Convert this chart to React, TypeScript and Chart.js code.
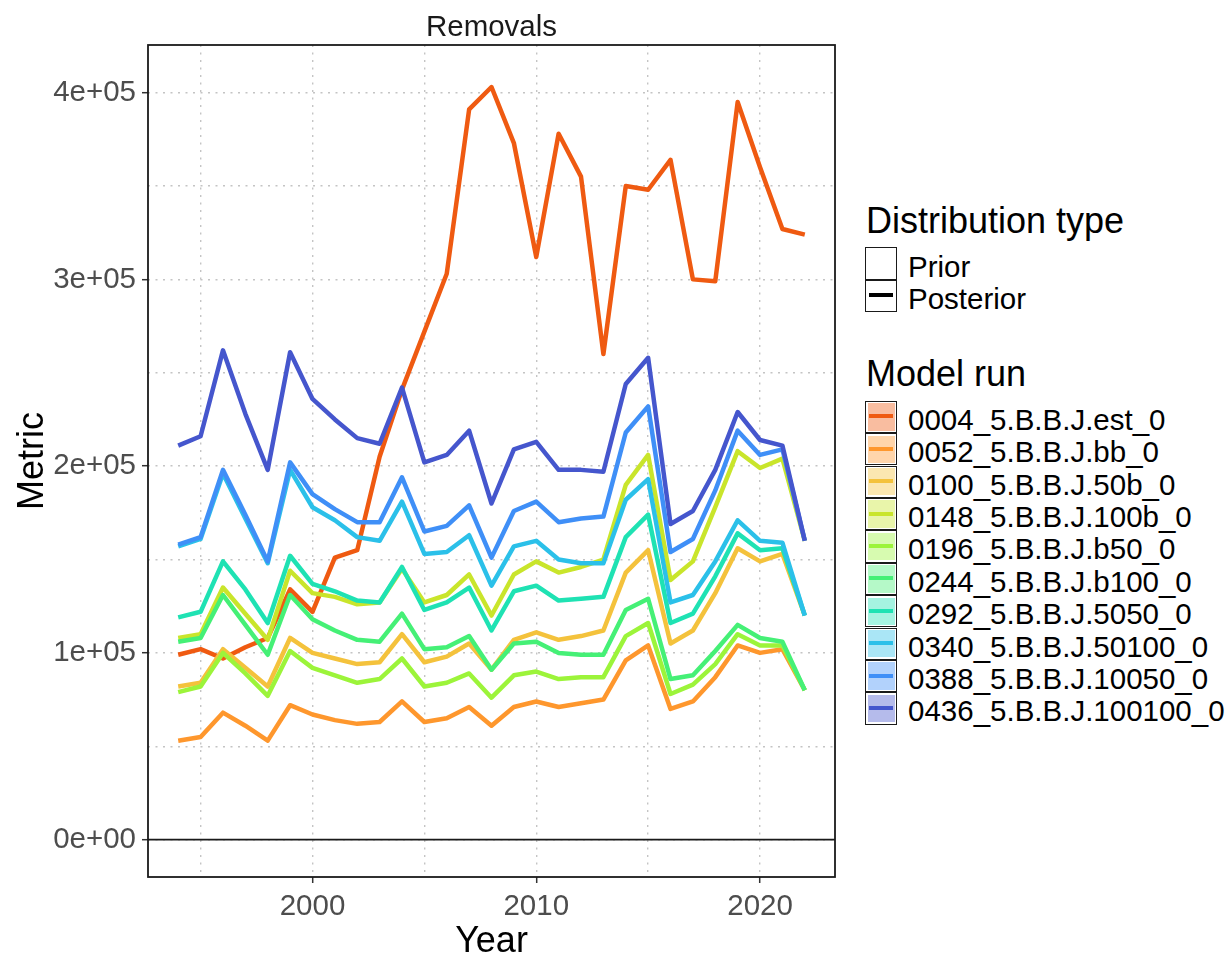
import React, { useEffect, useRef } from 'react';
import { Chart, registerables } from 'chart.js';

Chart.register(...registerables);

// ---------- data ----------
const years = [1994, 1995, 1996, 1997, 1998, 1999, 2000, 2001, 2002, 2003, 2004, 2005, 2006, 2007, 2008, 2009, 2010, 2011, 2012, 2013, 2014, 2015, 2016, 2017, 2018, 2019, 2020, 2021, 2022];

const runNames = [
  '0004_5.B.B.J.est_0',
  '0052_5.B.B.J.bb_0',
  '0100_5.B.B.J.50b_0',
  '0148_5.B.B.J.100b_0',
  '0196_5.B.B.J.b50_0',
  '0244_5.B.B.J.b100_0',
  '0292_5.B.B.J.5050_0',
  '0340_5.B.B.J.50100_0',
  '0388_5.B.B.J.10050_0',
  '0436_5.B.B.J.100100_0',
];

const runColors = ['#EF5A11', '#FE972D', '#F4C23C', '#C9E52B', '#9CF43A', '#45F076', '#1FE2B3', '#2BC0E9', '#3F8FF7', '#4556CD'];

const run0004 = [99000, 102000, 97000, 103000, 108000, 134000, 122000, 151000, 155000, 205000, 241000, 272000, 303000, 391000, 403000, 373000, 312000, 378000, 355000, 260000, 350000, 348000, 364000, 300000, 299000, 395000, 360000, 327000, 324000];
const run0052 = [53000, 55000, 68000, 61000, 53000, 72000, 67000, 64000, 62000, 63000, 74000, 63000, 65000, 71000, 61000, 71000, 74000, 71000, 73000, 75000, 96000, 104000, 70000, 74000, 87000, 104000, 100000, 102000, 80000];
const run0100 = [82000, 84000, 102000, 92000, 82000, 108000, 100000, 97000, 94000, 95000, 110000, 95000, 98000, 105000, 91000, 107000, 111000, 107000, 109000, 112000, 143000, 155000, 105000, 112000, 132000, 156000, 149000, 153000, 120000];
const run0148 = [108000, 110000, 135000, 121000, 107000, 144000, 132000, 130000, 126000, 127000, 145000, 127000, 131000, 142000, 120000, 142000, 149000, 143000, 146000, 150000, 190000, 206000, 139000, 149000, 178000, 208000, 199000, 204000, 160000];
const run0196 = [79000, 82000, 100000, 89000, 77000, 101000, 92000, 88000, 84000, 86000, 97000, 82000, 84000, 89000, 76000, 88000, 90000, 86000, 87000, 87000, 109000, 116000, 78000, 83000, 94000, 110000, 104000, 104000, 80000];
const run0244 = [106000, 108000, 131000, 115000, 99000, 131000, 118000, 112000, 107000, 106000, 121000, 102000, 103000, 109000, 91000, 105000, 106000, 100000, 99000, 99000, 123000, 129000, 86000, 88000, 101000, 115000, 108000, 106000, 80000];
const run0292 = [119000, 122000, 149000, 134000, 116000, 152000, 137000, 133000, 128000, 127000, 146000, 123000, 127000, 135000, 112000, 133000, 136000, 128000, 129000, 130000, 162000, 174000, 116000, 121000, 141000, 164000, 155000, 156000, 120000];
const run0340 = [157000, 161000, 196000, 172000, 148000, 198000, 178000, 171000, 162000, 160000, 181000, 153000, 154000, 163000, 136000, 157000, 160000, 150000, 148000, 148000, 182000, 193000, 127000, 131000, 149000, 171000, 160000, 159000, 120000];
const run0388 = [158000, 162000, 198000, 174000, 149000, 202000, 185000, 177000, 170000, 170000, 194000, 165000, 168000, 179000, 151000, 176000, 181000, 170000, 172000, 173000, 218000, 232000, 154000, 161000, 187000, 219000, 206000, 209000, 160000];
const run0436 = [211000, 216000, 262000, 228000, 198000, 261000, 236000, 225000, 215000, 212000, 242000, 202000, 206000, 219000, 180000, 209000, 213000, 198000, 198000, 197000, 244000, 258000, 169000, 176000, 198000, 229000, 214000, 211000, 160000];

const runValues = [run0004, run0052, run0100, run0148, run0196, run0244, run0292, run0340, run0388, run0436];

const distributionTypes = ['Prior', 'Posterior'];

const xTickValues = [1995, 2000, 2005, 2010, 2015, 2020];
const xLabelValues = [2000, 2010, 2020];
const yTickValues = [0, 50000, 100000, 150000, 200000, 250000, 300000, 350000, 400000];
const yLabelValues = [0, 100000, 200000, 300000, 400000];
const yLabelTexts = ['0e+00', '1e+05', '2e+05', '3e+05', '4e+05'];

// ---------- styling ----------
const FONT = "'Liberation Sans', Arial, Helvetica, sans-serif";

function hexToRgba(hex: string, a: number) {
  const n = parseInt(hex.slice(1), 16);
  return `rgba(${(n >> 16) & 255},${(n >> 8) & 255},${n & 255},${a})`;
}

const panelPlugin = {
  id: 'panelDecor',
  beforeDatasetsDraw(chart: any) {
    const { ctx, chartArea } = chart;
    const y0 = chart.scales.y.getPixelForValue(0);
    ctx.save();
    ctx.strokeStyle = '#1a1a1a';
    ctx.lineWidth = 1.6;
    ctx.beginPath();
    ctx.moveTo(chartArea.left, y0);
    ctx.lineTo(chartArea.right, y0);
    ctx.stroke();
    ctx.restore();
  },
  afterDraw(chart: any) {
    const { ctx, chartArea } = chart;
    ctx.save();
    ctx.strokeStyle = '#1a1a1a';
    ctx.lineWidth = 1.8;
    ctx.strokeRect(chartArea.left, chartArea.top, chartArea.right - chartArea.left, chartArea.bottom - chartArea.top);
    ctx.restore();
  },
};

function PlotCanvas() {
  const ref = useRef<HTMLCanvasElement | null>(null);
  useEffect(() => {
    if (!ref.current) return;
    const datasets = runNames.map((name, i) => ({
      label: name,
      data: years.map((yr, j) => ({ x: yr, y: runValues[i][j] })),
      borderColor: runColors[i],
      backgroundColor: runColors[i],
      borderWidth: 4.5,
      pointRadius: 0,
      tension: 0,
      fill: false,
      order: runNames.length - 1 - i,
      borderJoinStyle: 'round' as const,
      borderCapStyle: 'butt' as const,
    }));
    const chart = new Chart(ref.current, {
      type: 'line',
      data: { datasets },
      options: {
        animation: false,
        responsive: false,
        maintainAspectRatio: false,
        layout: { padding: { top: 45, right: 15, left: 0, bottom: 0 } },
        plugins: {
          legend: { display: false },
          tooltip: { enabled: false },
          title: { display: false },
        },
        scales: {
          x: {
            type: 'linear',
            min: 1992.65,
            max: 2023.35,
            afterBuildTicks: (s: any) => {
              s.ticks = xTickValues.map((v) => ({ value: v }));
            },
            afterFit: (s: any) => {
              s.height = 76;
            },
            ticks: {
              autoSkip: false,
              maxRotation: 0,
              padding: 6,
              color: '#4D4D4D',
              font: { family: FONT, size: 29.5 },
              callback: (v: any) => (xLabelValues.includes(Number(v)) ? String(v) : ''),
            },
            grid: {
              color: '#C4C4C4',
              lineWidth: 1.4,
              tickLength: 6,
              tickWidth: 1.5,
              tickColor: (c: any) => (c.tick && xLabelValues.includes(c.tick.value) ? '#333333' : 'rgba(0,0,0,0)'),
            },
            border: { display: false, dash: [2, 5.5] },
          },
          y: {
            type: 'linear',
            min: -20000,
            max: 425500,
            afterBuildTicks: (s: any) => {
              s.ticks = yTickValues.map((v) => ({ value: v }));
            },
            afterFit: (s: any) => {
              s.width = 148;
            },
            ticks: {
              autoSkip: false,
              padding: 6,
              color: '#4D4D4D',
              font: { family: FONT, size: 29.5 },
              callback: (v: any) => {
                const k = yLabelValues.indexOf(Number(v));
                return k >= 0 ? yLabelTexts[k] : '';
              },
            },
            grid: {
              color: '#C4C4C4',
              lineWidth: 1.4,
              tickLength: 6,
              tickWidth: 1.5,
              tickColor: (c: any) => (c.tick && yLabelValues.includes(c.tick.value) ? '#333333' : 'rgba(0,0,0,0)'),
            },
            border: { display: false, dash: [2, 5.5] },
          },
        },
      },
      plugins: [panelPlugin],
    });
    return () => chart.destroy();
  }, []);
  return <canvas ref={ref} width={850} height={953} style={{ position: 'absolute', left: 0, top: 0, width: 850, height: 953 }} />;
}

const textBase: React.CSSProperties = { position: 'absolute', fontFamily: FONT, whiteSpace: 'nowrap', margin: 0 };

function LegendKey({ top, fill, line }: { top: number; fill: string; line: string }) {
  return (
    <div style={{ position: 'absolute', left: 865, top, width: 32, height: 32.4, boxSizing: 'border-box', border: '1.5px solid #1a1a1a', background: '#ffffff' }}>
      <div style={{ position: 'absolute', left: 1.5, top: 1.5, right: 1.5, bottom: 1.5, background: fill }} />
      <div style={{ position: 'absolute', left: 3, right: 3, top: 12.7, height: 4, background: line }} />
    </div>
  );
}

export default function App() {
  const pitch = 32.4;
  return (
    <div style={{ position: 'absolute', left: 0, top: 0, width: 1230, height: 953, background: '#ffffff', overflow: 'hidden' }}>
      <PlotCanvas />
      <div style={{ ...textBase, left: 148, width: 687, top: 9.5, fontSize: 29.5, lineHeight: '32px', textAlign: 'center', color: '#1A1A1A' }}>Removals</div>
      <div style={{ ...textBase, left: 148, width: 687, top: 919.5, fontSize: 36, lineHeight: '40px', textAlign: 'center', color: '#000' }}>Year</div>
      <div style={{ ...textBase, left: 31 - 150, top: 461 - 20, width: 300, height: 40, fontSize: 36, lineHeight: '40px', textAlign: 'center', color: '#000', transform: 'rotate(-90deg)' }}>Metric</div>

      <div style={{ ...textBase, left: 866, top: 200.5, fontSize: 36, lineHeight: '40px', color: '#000' }}>Distribution type</div>
      {distributionTypes.map((d, i) => (
        <React.Fragment key={d}>
          <LegendKey top={247.3 + i * pitch} fill="#ffffff" line={d === 'Posterior' ? '#000000' : 'rgba(0,0,0,0)'} />
          <div style={{ ...textBase, left: 908, top: 250.8 + i * pitch, fontSize: 29.5, lineHeight: '32px', color: '#000' }}>{d}</div>
        </React.Fragment>
      ))}

      <div style={{ ...textBase, left: 866, top: 354.2, fontSize: 36, lineHeight: '40px', color: '#000' }}>Model run</div>
      {runNames.map((name, i) => (
        <React.Fragment key={name}>
          <LegendKey top={400.7 + i * pitch} fill={hexToRgba(runColors[i], 0.4)} line={runColors[i]} />
          <div style={{ ...textBase, left: 908, top: 403.8 + i * pitch, fontSize: 29.5, lineHeight: '32px', color: '#000' }}>{name}</div>
        </React.Fragment>
      ))}
    </div>
  );
}
